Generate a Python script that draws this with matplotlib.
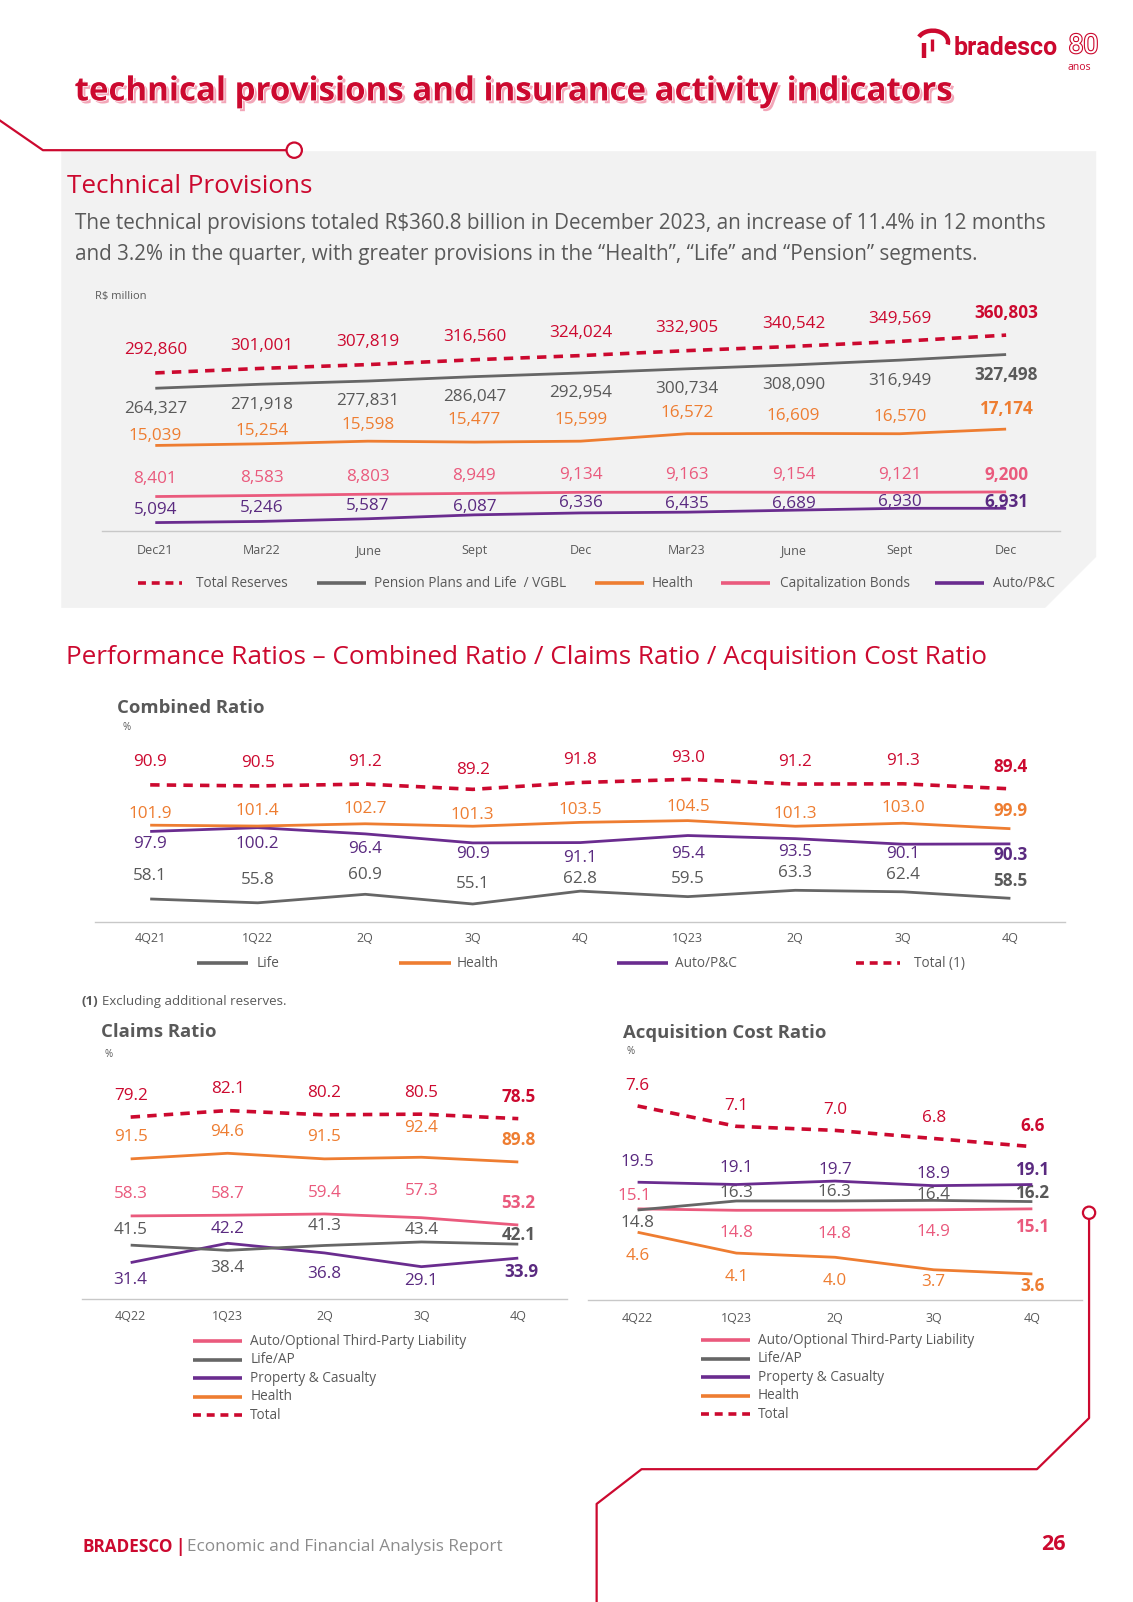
import matplotlib.pyplot as plt
import matplotlib.patches as mpatches
import matplotlib.patheffects as pe
from matplotlib.transforms import blended_transform_factory

plt.rcParams['font.family'] = ['Open Sans', 'DejaVu Sans']

# ---- data -------------------------------------------------------------
months = ['Dec21', 'Mar22', 'June', 'Sept', 'Dec', 'Mar23', 'June', 'Sept', 'Dec']
total_reserves = [292860, 301001, 307819, 316560, 324024, 332905, 340542, 349569, 360803]
pension_vgbl = [264327, 271918, 277831, 286047, 292954, 300734, 308090, 316949, 327498]
health_prov = [15039, 15254, 15598, 15477, 15599, 16572, 16609, 16570, 17174]
cap_bonds = [8401, 8583, 8803, 8949, 9134, 9163, 9154, 9121, 9200]
auto_pc_prov = [5094, 5246, 5587, 6087, 6336, 6435, 6689, 6930, 6931]

quarters_cr = ['4Q21', '1Q22', '2Q', '3Q', '4Q', '1Q23', '2Q', '3Q', '4Q']
cr_life = [58.1, 55.8, 60.9, 55.1, 62.8, 59.5, 63.3, 62.4, 58.5]
cr_health = [101.9, 101.4, 102.7, 101.3, 103.5, 104.5, 101.3, 103.0, 99.9]
cr_auto = [97.9, 100.2, 96.4, 90.9, 91.1, 95.4, 93.5, 90.1, 90.3]
cr_total = [90.9, 90.5, 91.2, 89.2, 91.8, 93.0, 91.2, 91.3, 89.4]

quarters = ['4Q22', '1Q23', '2Q', '3Q', '4Q']
claims_auto = [58.3, 58.7, 59.4, 57.3, 53.2]
claims_life = [41.5, 38.4, 41.3, 43.4, 42.1]
claims_pc = [31.4, 42.2, 36.8, 29.1, 33.9]
claims_health = [91.5, 94.6, 91.5, 92.4, 89.8]
claims_total = [79.2, 82.1, 80.2, 80.5, 78.5]

acq_auto = [15.1, 14.8, 14.8, 14.9, 15.1]
acq_life = [14.8, 16.3, 16.3, 16.4, 16.2]
acq_pc = [19.5, 19.1, 19.7, 18.9, 19.1]
acq_health = [4.6, 4.1, 4.0, 3.7, 3.6]
acq_total = [7.6, 7.1, 7.0, 6.8, 6.6]

# ---- style ------------------------------------------------------------
RED = '#cc092f'
GRAY = '#666666'
GRAY_TXT = '#595959'
ORANGE = '#ee7d31'
PINK = '#ea5a7d'
PURPLE = '#6a2c8f'
PURPLE_TXT = '#5a2a80'
AXIS = '#c8c8c8'
PANEL = '#f2f2f2'

W, H = 1109.0, 1568.0      # page units
S = 1602.0 / H             # real pixels per page unit
PU = S * 0.72              # points per page unit
LBL = 12.3                 # data label size
LEG = 9.8                  # legend text size

fig = plt.figure(figsize=(11.33, 16.02), dpi=100)
bg = fig.add_axes([0, 0, 1, 1])
bg.set_xlim(0, W)
bg.set_ylim(H, 0)
bg.axis('off')


def rect(x0, y0, x1, y1):
    return [x0 / W, 1 - y1 / H, (x1 - x0) / W, (y1 - y0) / H]


def fmt_int(v):
    return '{:,}'.format(v)


def fmt_pct(v):
    return '{:.1f}'.format(v)


def make_chart(x0, x1, top, base, x_first, dx, cats, tick_y):
    ax = fig.add_axes(rect(x0, top, x1, base))
    ax.set_xlim((x0 - x_first) / dx, (x1 - x_first) / dx)
    ax.axis('off')
    bg.plot([x0, x1], [base, base], color=AXIS, lw=1)
    tr = blended_transform_factory(ax.transData, bg.transData)
    for i, c in enumerate(cats):
        ax.text(i, tick_y + 4, c, transform=tr, ha='center', va='baseline',
                fontsize=9, color=GRAY_TXT)
    ax.top_px, ax.base_px = top, base
    return ax


def add_series(ax, vals, band, color, offs, txtcolor, fmt, dashed=False,
               lw=2.0, fs=LBL, xoffs=None):
    # offs: label distance in page units, positive = above the line
    t = ax.twinx()
    t.axis('off')
    top, base = ax.top_px, ax.base_px
    vmin, vmax = min(vals), max(vals)
    fmin = (base - band[0]) / (base - top)
    fmax = (base - band[1]) / (base - top)
    span = (vmax - vmin) / (fmax - fmin)
    lo = vmin - fmin * span
    t.set_ylim(lo, lo + span)
    line, = t.plot(range(len(vals)), vals, color=color, lw=lw,
                   solid_capstyle='butt', solid_joinstyle='round')
    if dashed:
        line.set_dashes((2.6, 2.0))
        line.set_lw(2.6)
    n = len(vals)
    for i, v in enumerate(vals):
        off = offs[i] if isinstance(offs, list) else offs
        xo = xoffs[i] if xoffs else 0
        t.annotate(fmt(v), (i, v), xytext=(xo * PU, off * PU),
                   textcoords='offset points', ha='center', va='center',
                   fontsize=fs, color=txtcolor,
                   weight='bold' if i == n - 1 else 'normal')
    return t


def legend_row(items, y, fs=LEG):
    for x_a, x_b, x_t, color, dashed, label in items:
        ln, = bg.plot([x_a, x_b], [y, y], color=color, lw=2.6,
                      solid_capstyle='butt')
        if dashed:
            ln.set_dashes((2.2, 1.6))
        bg.text(x_t, y, label, fontsize=fs, color=GRAY_TXT, va='center')


# ---- page decoration ---------------------------------------------------
bg.add_patch(mpatches.Polygon([(60, 148), (1073, 148), (1073, 545),
                               (1023, 595), (60, 595)], closed=True,
                              fc=PANEL, ec='none', zorder=0))
bg.plot([0, 42, 280], [118, 147, 147], color=RED, lw=1.6)
bg.add_patch(mpatches.Circle((288, 147), 7.5, fc='white', ec=RED, lw=1.6, zorder=5))
bg.plot([1066, 1066, 1015, 628, 584, 584], [1193, 1388, 1438, 1438, 1472, 1568],
        color=RED, lw=1.6)
bg.add_patch(mpatches.Circle((1066, 1187), 6, fc='white', ec=RED, lw=1.6, zorder=5))

# logo
bg.add_patch(mpatches.Arc((913, 41), 30, 22, theta1=200, theta2=360 + 10,
                          ec=RED, lw=3.2))
bg.plot([904, 904], [42, 57], color=RED, lw=3.2, solid_capstyle='butt')
bg.plot([912, 912], [38, 50], color=RED, lw=2.4, solid_capstyle='butt')
bg.text(933, 47, 'bradesco', fontsize=18, weight='bold', color=RED,
        va='center', ha='left', family=['Roboto', 'DejaVu Sans'])
bg.text(1046, 45, '80', fontsize=19, color='white', va='center', ha='left',
        family=['Roboto', 'DejaVu Sans'],
        path_effects=[pe.withStroke(linewidth=1.6, foreground=RED)])
bg.text(1068, 66, 'anos', fontsize=7.5, color=RED, va='center', ha='right')

# title
bg.text(73, 90, 'technical provisions and insurance activity indicators',
        fontsize=23.8, weight='bold', color=RED, va='center', ha='left',
        path_effects=[pe.SimplePatchShadow(offset=(2, -2), shadow_rgbFace='#f3a6b8', alpha=1),
                      pe.withStroke(linewidth=1.2, foreground='white')])

bg.text(66, 183, 'Technical Provisions', fontsize=18.8, color=RED, va='center')
bg.text(73, 219, r'The technical provisions totaled R\$360.8 billion in December 2023, '
        'an increase of 11.4% in 12 months', fontsize=14.9, color=GRAY_TXT, va='center')
bg.text(73, 249, 'and 3.2% in the quarter, with greater provisions in the '
        '\u201cHealth\u201d, \u201cLife\u201d and \u201cPension\u201d segments.',
        fontsize=14.9, color=GRAY_TXT, va='center')
bg.text(93, 290, r'R\$ million', fontsize=8, color=GRAY_TXT, va='center')

# ---- technical provisions chart --------------------------------------
ax1 = make_chart(100, 1038, 290, 520, 152, 104.1, months, 538)
add_series(ax1, auto_pc_prov, (511.5, 497.5), PURPLE,
           [12, 13, 12, 8, 9.5, 8, 6, 6, 6], PURPLE_TXT, fmt_int)
add_series(ax1, cap_bonds, (486, 481.5), PINK, 17, PINK, fmt_int)
add_series(ax1, health_prov, (436, 420), ORANGE,
           [9, 13, 16, 22, 21, 20, 17, 16, 20], ORANGE, fmt_int)
add_series(ax1, pension_vgbl, (380, 347), GRAY, -20, GRAY_TXT, fmt_int)
add_series(ax1, total_reserves, (365, 328), RED, 22, RED, fmt_int, dashed=True)

legend_row([(135, 178, 192, RED, True, 'Total Reserves'),
            (310, 358, 366, GRAY, False, 'Pension Plans and Life  / VGBL'),
            (582, 630, 638, ORANGE, False, 'Health'),
            (706, 754, 763, PINK, False, 'Capitalization Bonds'),
            (915, 963, 972, PURPLE, False, 'Auto/P&C')], 571)

# ---- performance ratios ------------------------------------------------
bg.text(65, 644, 'Performance Ratios \u2013 Combined Ratio / Claims Ratio / Acquisition Cost Ratio',
        fontsize=18.8, color=RED, va='center')
bg.text(115, 693, 'Combined Ratio', fontsize=13.3, weight='bold', color=GRAY_TXT, va='center')
bg.text(120, 712, '%', fontsize=7, color=GRAY_TXT, va='center')

ax2 = make_chart(93, 1042, 730, 902, 147, 105.25, quarters_cr, 918)
add_series(ax2, cr_life, (884.8, 871.4), GRAY,
           [22, 22, 19, 20, 12, 17, 17, 16, 17], GRAY_TXT, fmt_pct)
add_series(ax2, cr_auto, (826.3, 810.1), PURPLE,
           [-12, -16, -15, -11, -15, -18, -13, -10, -11], PURPLE_TXT, fmt_pct)
add_series(ax2, cr_health, (811.1, 803.2), ORANGE,
           [11, 15, 14, 11, 12, 13, 12, 15, 17], ORANGE, fmt_pct)
add_series(ax2, cr_total, (772.6, 762.8), RED,
           [22, 22, 22, 19, 22, 21, 22, 22, 21], RED, fmt_pct, dashed=True)

legend_row([(193, 243, 251, GRAY, False, 'Life'),
            (391, 441, 447, ORANGE, False, 'Health'),
            (604, 654, 661, PURPLE, False, 'Auto/P&C'),
            (838, 881, 895, RED, True, 'Total (1)')], 943)

bg.text(80, 980, '(1)', fontsize=9.5, weight='bold', color=GRAY_TXT, va='center')
bg.text(100, 980, 'Excluding additional reserves.', fontsize=9.5, color=GRAY_TXT, va='center')

# claims ratio
bg.text(99, 1010, 'Claims Ratio', fontsize=13.3, weight='bold', color=GRAY_TXT, va='center')
bg.text(102, 1032, '%', fontsize=7, color=GRAY_TXT, va='center')
ax3 = make_chart(80, 555, 1040, 1271, 127.9, 94.85, quarters, 1288)
add_series(ax3, claims_pc, (1239.8, 1216.9), PURPLE,
           [-17, 14, -21, -14, -13.5], PURPLE_TXT, fmt_pct, xoffs=[0, 0, 0, 0, 3])
add_series(ax3, claims_life, (1223.8, 1215.6), GRAY,
           [15, -17, 19, 12, 9], GRAY_TXT, fmt_pct)
add_series(ax3, claims_auto, (1199, 1188.2), PINK, [21, 21, 21, 26, 22], PINK, fmt_pct)
add_series(ax3, claims_health, (1137.3, 1128.8), ORANGE, [21, 20.5, 21, 29, 21.5], ORANGE, fmt_pct)
add_series(ax3, claims_total, (1094.9, 1087), RED, 21, RED, fmt_pct, dashed=True)

# acquisition cost ratio
bg.text(610, 1011, 'Acquisition Cost Ratio', fontsize=13.3, weight='bold', color=GRAY_TXT, va='center')
bg.text(613, 1029, '%', fontsize=7, color=GRAY_TXT, va='center')
ax4 = make_chart(576, 1059, 1040, 1272, 624.1, 96.6, quarters, 1289.7)
add_series(ax4, acq_health, (1246.9, 1206.1), ORANGE, [-23, -23, -23, -12, -12], ORANGE, fmt_pct)
add_series(ax4, acq_auto, (1184.6, 1183.2), PINK, [13, -22, -23, -22, -18], PINK, fmt_pct,
           xoffs=[-3, 0, 0, 0, 0])
add_series(ax4, acq_life, (1184.3, 1174.9), GRAY, [-13, 8, 9, 5, 8], GRAY_TXT, fmt_pct)
add_series(ax4, acq_pc, (1160.5, 1156), PURPLE, [20, 16, 11, 11, 14], PURPLE_TXT, fmt_pct)
add_series(ax4, acq_total, (1122.3, 1082.5), RED, 20, RED, fmt_pct, dashed=True)

for lx_a, lx_b, lx_t, rows in [(189, 237, 245, [1313, 1331, 1349, 1367, 1385]),
                               (686, 734, 742, [1312, 1330, 1348, 1366, 1384])]:
    entries = [(PINK, False, 'Auto/Optional Third-Party Liability'),
               (GRAY, False, 'Life/AP'),
               (PURPLE, False, 'Property & Casualty'),
               (ORANGE, False, 'Health'),
               (RED, True, 'Total')]
    for (color, dashed, label), y in zip(entries, rows):
        legend_row([(lx_a, lx_b, lx_t, color, dashed, label)], y)

# ---- footer ------------------------------------------------------------
bg.text(81, 1514, 'BRADESCO', fontsize=12.3, weight='bold', color=RED, va='center')
bg.text(172, 1514, '|', fontsize=12.3, weight='bold', color=RED, va='center')
bg.text(183, 1514, 'Economic and Financial Analysis Report', fontsize=12.3,
        color='#8c8c8c', va='center')
bg.text(1043, 1512, '26', fontsize=15.5, weight='bold', color=RED, va='center', ha='right')

fig.savefig('out.png', dpi=100)
